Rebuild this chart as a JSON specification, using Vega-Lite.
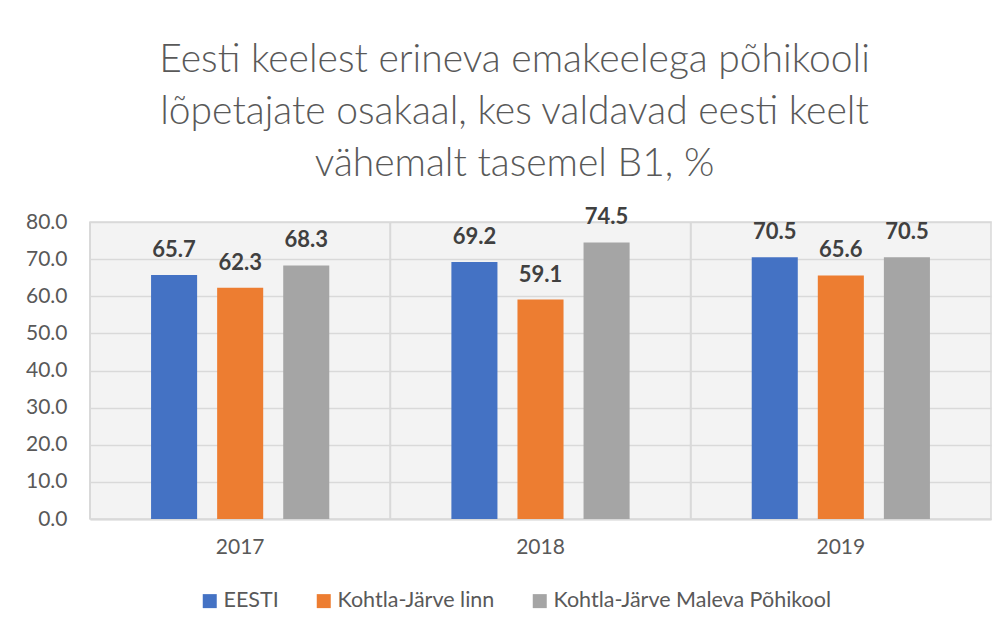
{
  "$schema": "https://vega.github.io/schema/vega-lite/v6.json",
  "width": 901,
  "height": 297,
  "autosize": {"type": "none"},
  "padding": {"left": 90, "top": 222, "right": 16, "bottom": 113},
  "background": "white",
  "title": {
    "text": ["Eesti keelest erineva emakeelega põhikooli", "lõpetajate osakaal, kes valdavad eesti keelt", "vähemalt tasemel B1, %"],
    "font": "Lato",
    "fontWeight": 300,
    "fontSize": 39,
    "color": "#595959",
    "lineHeight": 52,
    "anchor": "middle",
    "dx": -26,
    "offset": 22
  },
  "config": {
    "view": {"stroke": "#d9d9d9", "strokeWidth": 1.5, "fill": "#f3f3f3"},
    "font": "Lato"
  },
  "data": {
    "values": [
      {"aasta": "2017", "seeria": "EESTI", "v": 65.7},
      {"aasta": "2017", "seeria": "Kohtla-Järve linn", "v": 62.3},
      {"aasta": "2017", "seeria": "Kohtla-Järve Maleva Põhikool", "v": 68.3},
      {"aasta": "2018", "seeria": "EESTI", "v": 69.2},
      {"aasta": "2018", "seeria": "Kohtla-Järve linn", "v": 59.1},
      {"aasta": "2018", "seeria": "Kohtla-Järve Maleva Põhikool", "v": 74.5},
      {"aasta": "2019", "seeria": "EESTI", "v": 70.5},
      {"aasta": "2019", "seeria": "Kohtla-Järve linn", "v": 65.6},
      {"aasta": "2019", "seeria": "Kohtla-Järve Maleva Põhikool", "v": 70.5}
    ]
  },
  "encoding": {
    "x": {
      "field": "aasta",
      "type": "nominal",
      "scale": {"paddingInner": 0, "paddingOuter": 0},
      "axis": {
        "title": null,
        "labelAngle": 0,
        "labelFontSize": 21,
        "labelColor": "#595959",
        "labelPadding": 17,
        "ticks": false,
        "grid": false,
        "domainColor": "#d9d9d9",
        "domainWidth": 2
      }
    },
    "y": {
      "field": "v",
      "type": "quantitative",
      "scale": {"domain": [0, 80], "nice": false},
      "axis": {
        "title": null,
        "values": [0, 10, 20, 30, 40, 50, 60, 70, 80],
        "format": ".1f",
        "labelFontSize": 21,
        "labelColor": "#595959",
        "labelPadding": 23,
        "labelOverlap": false,
        "ticks": false,
        "domain": false,
        "gridColor": "#d9d9d9",
        "gridWidth": 1.5
      }
    },
    "xOffset": {
      "field": "seeria",
      "type": "nominal",
      "sort": ["EESTI", "Kohtla-Järve linn", "Kohtla-Järve Maleva Põhikool"],
      "scale": {"paddingInner": 0.303, "paddingOuter": 0.924}
    }
  },
  "layer": [
    {
      "mark": {"type": "rule", "color": "#d9d9d9", "strokeWidth": 1.5},
      "encoding": {
        "x": {"field": "aasta", "type": "nominal", "bandPosition": 0},
        "y": null,
        "xOffset": null
      }
    },
    {
      "mark": {"type": "bar"},
      "encoding": {
        "color": {
          "field": "seeria",
          "type": "nominal",
          "sort": ["EESTI", "Kohtla-Järve linn", "Kohtla-Järve Maleva Põhikool"],
          "scale": {
            "domain": ["EESTI", "Kohtla-Järve linn", "Kohtla-Järve Maleva Põhikool"],
            "range": ["#4472C4", "#ED7D31", "#A5A5A5"]
          },
          "legend": {
            "title": null,
            "orient": "none",
            "legendX": 109,
            "legendY": 368,
            "direction": "horizontal",
            "labelFontSize": 21.5,
            "labelColor": "#595959",
            "symbolType": "square",
            "symbolSize": 196,
            "symbolStrokeWidth": 0,
            "columnPadding": 34,
            "labelOffset": 3,
            "labelLimit": 400
          }
        }
      }
    },
    {
      "mark": {"type": "text", "dy": -18, "baseline": "alphabetic", "fontWeight": "bold", "fontSize": 22, "color": "#404040"},
      "encoding": {
        "text": {"field": "v", "type": "quantitative", "format": ".1f"}
      }
    }
  ]
}
